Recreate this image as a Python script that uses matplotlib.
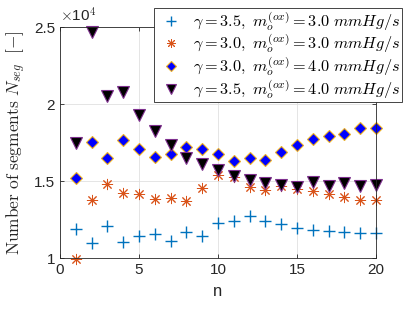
import matplotlib
matplotlib.use("Agg")
import matplotlib.pyplot as plt
import numpy as np

plt.rcParams['mathtext.fontset'] = 'cm'
plt.rcParams['font.family'] = ['Liberation Sans', 'DejaVu Sans']

n = list(range(1, 21))
# values in units of 10^4
s1 = [1.186, 1.100, 1.208, 1.102, 1.143, 1.156, 1.108, 1.167, 1.143, 1.225,
      1.238, 1.273, 1.242, 1.219, 1.193, 1.182, 1.173, 1.167, 1.160, 1.160]
s2 = [0.995, 1.377, 1.479, 1.424, 1.414, 1.385, 1.390, 1.372, 1.457, 1.539,
      1.524, 1.459, 1.442, 1.468, 1.446, 1.437, 1.416, 1.394, 1.377, 1.377]
s3 = [1.522, 1.755, 1.647, 1.764, 1.710, 1.656, 1.675, 1.721, 1.710, 1.677,
      1.630, 1.649, 1.638, 1.688, 1.734, 1.771, 1.794, 1.807, 1.842, 1.842]
s4 = [1.745, 2.470, 2.054, 2.080, 1.929, 1.827, 1.734, 1.647, 1.610, 1.571,
      1.532, 1.506, 1.489, 1.474, 1.463, 1.496, 1.468, 1.485, 1.468, 1.474]

labels = [r'$\gamma = 3.5,\ m_o^{(ox)} = 3.0\ mmHg/s$',
          r'$\gamma = 3.0,\ m_o^{(ox)} = 3.0\ mmHg/s$',
          r'$\gamma = 3.0,\ m_o^{(ox)} = 4.0\ mmHg/s$',
          r'$\gamma = 3.5,\ m_o^{(ox)} = 4.0\ mmHg/s$']

fig = plt.figure(figsize=(4.15, 3.12), dpi=100)
ax = fig.add_axes([0.1446, 0.173, 0.906 - 0.1446, 0.913 - 0.173])

ax.plot(n, s1, linestyle='none', marker='+', markersize=9, markeredgewidth=1.0,
        color=(0, 0.447, 0.741), label=labels[0], clip_on=False)
ax.plot(n, s2, linestyle='none', marker=(8, 2, 0), markersize=8, markeredgewidth=0.7,
        color=(0.85, 0.325, 0.098), label=labels[1], clip_on=False)
ax.plot(n, s3, linestyle='none', marker='D', markersize=6.5, markeredgewidth=0.8,
        markerfacecolor=(0, 0, 1), markeredgecolor=(0.93, 0.69, 0.13), label=labels[2],
        clip_on=False)
ax.plot(n, s4, linestyle='none', marker='v', markersize=9, markeredgewidth=0.8,
        markerfacecolor='black', markeredgecolor=(0.494, 0.184, 0.556), label=labels[3],
        clip_on=False)

ax.set_xlim(0, 20)
ax.set_ylim(1, 2.5)
ax.set_xticks([0, 5, 10, 15, 20])
ax.set_yticks([1, 1.5, 2, 2.5])
ax.set_yticklabels(['1', '1.5', '2', '2.5'])
ax.grid(True, color=(0.88, 0.88, 0.88), linewidth=0.6)
ax.set_axisbelow(True)
ax.tick_params(direction='in', length=3, width=0.6, colors=(0.15, 0.15, 0.15),
               labelsize=11, top=True, right=True, labeltop=False, labelright=False)
for sp in ax.spines.values():
    sp.set_color((0.15, 0.15, 0.15))
    sp.set_linewidth(0.6)

ax.set_xlabel('n', fontsize=12, color=(0.15, 0.15, 0.15), labelpad=5)
ax.set_ylabel(r'$\mathrm{Number\ of\ segments}\ N_{seg}\ \ [-]$', fontsize=12.5,
              color=(0.15, 0.15, 0.15), labelpad=4)
ax.text(0.0, 1.01, r'$\times$10$^{4}$', transform=ax.transAxes, fontsize=11,
        color=(0.15, 0.15, 0.15), ha='left', va='bottom')

leg = fig.legend(loc='upper right', bbox_to_anchor=(0.969, 0.974), fontsize=11.7,
                 frameon=True, fancybox=False, edgecolor=(0.15, 0.15, 0.15),
                 framealpha=1, borderpad=0.1, labelspacing=0.0, handletextpad=0.5,
                 handlelength=1.8, borderaxespad=0, markerscale=0.8)
leg.get_frame().set_linewidth(0.6)

fig.savefig('out.png', dpi=100)
